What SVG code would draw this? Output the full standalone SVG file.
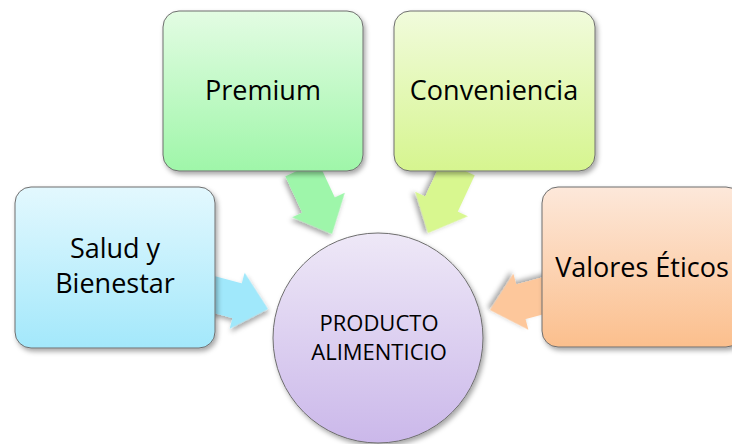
<svg xmlns="http://www.w3.org/2000/svg" width="732" height="444" viewBox="0 0 732 444">
  <defs>
    <filter id="sh" x="-20%" y="-20%" width="140%" height="140%">
      <feDropShadow dx="2" dy="3" stdDeviation="2.5" flood-color="#000" flood-opacity="0.35"/>
    </filter>
    <linearGradient id="gBlue" x1="0" y1="0" x2="0" y2="1">
      <stop offset="0" stop-color="#e3f8fe"/>
      <stop offset="1" stop-color="#a3e8fb"/>
    </linearGradient>
    <linearGradient id="gGreen" x1="0" y1="0" x2="0" y2="1">
      <stop offset="0" stop-color="#e3fce3"/>
      <stop offset="1" stop-color="#9ff6a9"/>
    </linearGradient>
    <linearGradient id="gLime" x1="0" y1="0" x2="0" y2="1">
      <stop offset="0" stop-color="#f1fbdc"/>
      <stop offset="1" stop-color="#d6f58f"/>
    </linearGradient>
    <linearGradient id="gOrange" x1="0" y1="0" x2="0" y2="1">
      <stop offset="0" stop-color="#fde8da"/>
      <stop offset="1" stop-color="#fbbf8d"/>
    </linearGradient>
    <linearGradient id="gPurple" x1="0" y1="0" x2="0" y2="1">
      <stop offset="0" stop-color="#eee8f7"/>
      <stop offset="1" stop-color="#cbb8ea"/>
    </linearGradient>
    <polygon id="arr" points="0,0 -32,-29 -32,-18 -72,-18 -72,18 -32,18 -32,29"/>
  </defs>
  <style>
    .box { stroke: #6e6e6e; stroke-width: 1; filter: url(#sh); }
    .lbl { font-family: "Open Sans", "Liberation Sans", sans-serif; font-size: 27px; fill: #000; text-anchor: middle; }
    .clbl { font-family: "Open Sans", "Liberation Sans", sans-serif; font-size: 22px; fill: #000; text-anchor: middle; }
    .arrow { filter: url(#sh); }
  </style>

  <g id="connectors">
    <use href="#arr" class="arrow" fill="#a0e8fb" transform="translate(268,309) rotate(15)"/>
    <use href="#arr" class="arrow" fill="#9ef6aa" transform="translate(332,234) rotate(65)"/>
    <use href="#arr" class="arrow" fill="#d8f78f" transform="translate(428,233) rotate(115)"/>
    <use href="#arr" class="arrow" fill="#fdc79b" transform="translate(490,310) rotate(165)"/>
  </g>

  <g id="node-salud">
    <rect class="box" x="15" y="187" width="200" height="161" rx="16" fill="url(#gBlue)"/>
    <text class="lbl" x="115" y="258">Salud y</text>
    <text class="lbl" x="115" y="293">Bienestar</text>
  </g>

  <g id="node-premium">
    <rect class="box" x="163" y="11" width="200" height="160" rx="16" fill="url(#gGreen)"/>
    <text class="lbl" x="263" y="100">Premium</text>
  </g>

  <g id="node-conveniencia">
    <rect class="box" x="394" y="11" width="201" height="160" rx="16" fill="url(#gLime)"/>
    <text class="lbl" x="494" y="100">Conveniencia</text>
  </g>

  <g id="node-valores">
    <rect class="box" x="542" y="187" width="200" height="160" rx="16" fill="url(#gOrange)"/>
    <text class="lbl" x="642" y="277">Valores Éticos</text>
  </g>

  <g id="node-producto">
    <circle class="box" cx="378" cy="338" r="105" fill="url(#gPurple)"/>
    <text class="clbl" x="379" y="331">PRODUCTO</text>
    <text class="clbl" x="379" y="360">ALIMENTICIO</text>
  </g>
</svg>
